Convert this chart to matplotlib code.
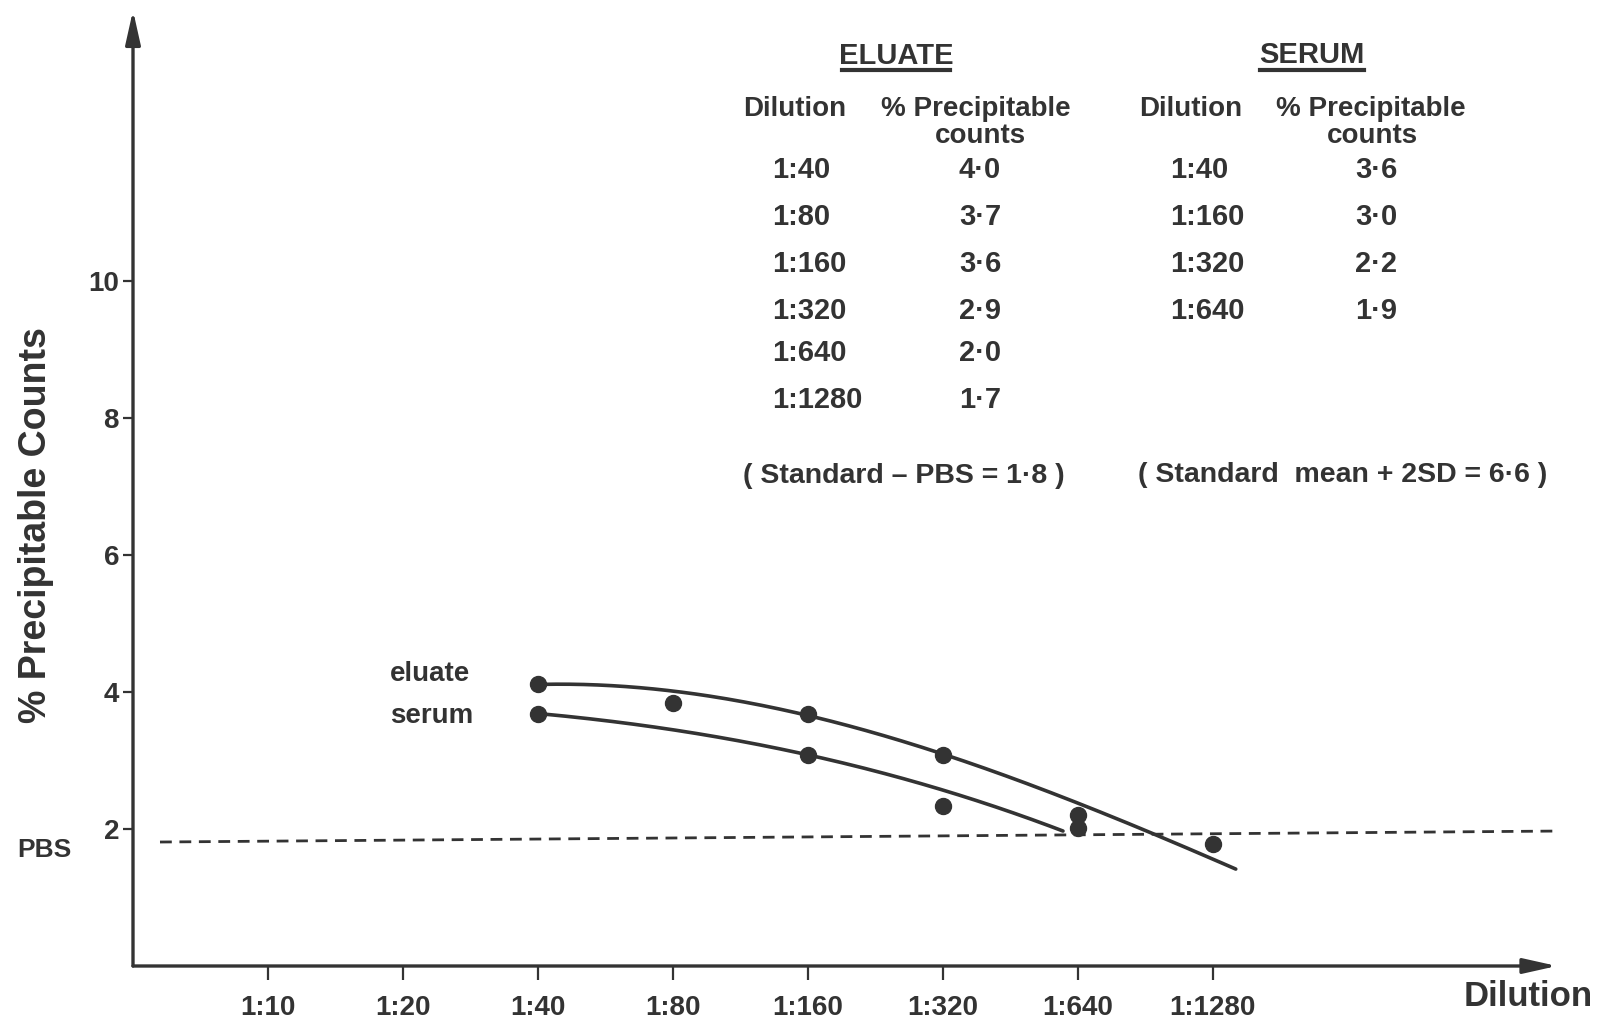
import numpy as np
import matplotlib
matplotlib.use("Agg")
import matplotlib.pyplot as plt
from matplotlib.lines import Line2D

# ---------------- data ----------------
dilutions = ["1:10", "1:20", "1:40", "1:80", "1:160", "1:320", "1:640", "1:1280"]
y_ticks = [2, 4, 6, 8, 10]

# plotted points (x = dilution index, y = % precipitable counts as drawn)
eluate_x = [2, 3, 4, 5, 6, 7]
eluate_y = [4.12, 3.84, 3.68, 3.08, 2.20, 1.78]
serum_x = [2, 4, 5, 6]
serum_y = [3.68, 3.08, 2.34, 2.01]

# hand-drawn fitted curves (knots)
eluate_curve_x = [2.03, 3.06, 4.05, 5.03, 6.05, 6.55, 7.17]
eluate_curve_y = [4.12, 3.97, 3.66, 3.08, 2.32, 1.94, 1.42]
serum_curve_x = [2.03, 3.0, 4.0, 5.0, 5.89]
serum_curve_y = [3.68, 3.45, 3.08, 2.57, 1.97]

# PBS baseline (as drawn, slightly slanted)
pbs_x = [-0.8, 9.55]
pbs_y = [1.81, 1.97]

# table
eluate_dil = ["1:40", "1:80", "1:160", "1:320", "1:640", "1:1280"]
eluate_val = ["4·0", "3·7", "3·6", "2·9", "2·0", "1·7"]
serum_dil = ["1:40", "1:160", "1:320", "1:640"]
serum_val = ["3·6", "3·0", "2·2", "1·9"]

INK = "#333333"
FONT = "Liberation Sans"
plt.rcParams["font.family"] = [FONT, "DejaVu Sans"]
plt.rcParams["lines.scale_dashes"] = False

W, H = 1604, 1022
fig = plt.figure(figsize=(W / 100, H / 100), dpi=100)

def fx(px):
    return px / W

def fy(py):
    return 1 - py / H

# axes: x index -1 .. 9.55 -> px 133..1557 ; y 0..14 -> 966..7
ax = fig.add_axes([fx(133), fy(966), (1557 - 133) / W, (966 - 7) / H])
ax.set_xlim(-1, 9.55)
ax.set_ylim(0, 14)
for s in ax.spines.values():
    s.set_visible(False)
ax.patch.set_alpha(0)

# axis arrows
arrow = dict(arrowstyle="-|>,head_length=1.7,head_width=0.38", color=INK, lw=2.4,
             mutation_scale=12, shrinkA=0, shrinkB=0)
ax.annotate("", xy=(9.55, 0), xytext=(-1, 0), xycoords="data", arrowprops=arrow,
            annotation_clip=False)
ax.annotate("", xy=(-1, 13.95), xytext=(-1, 0), xycoords="data", arrowprops=arrow,
            annotation_clip=False)

# ticks
ax.set_xticks(range(len(dilutions)))
ax.set_xticklabels(dilutions)
ax.set_yticks(y_ticks)
ax.set_yticklabels([str(v) for v in y_ticks])
ax.tick_params(axis="x", direction="out", length=10, width=1.6, color=INK,
               pad=11, labelsize=20, labelcolor=INK)
ax.tick_params(axis="y", direction="out", length=7, width=1.6, color=INK,
               pad=3, labelsize=20, labelcolor=INK)
for lab in ax.get_xticklabels() + ax.get_yticklabels():
    lab.set_fontweight("bold")

# PBS dashed line
ax.plot(pbs_x, pbs_y, color=INK, lw=2.0, linestyle=(0, (8.5, 5.5)), clip_on=False)

# curves (smooth fits through the drawn knots)
ce = np.polyfit(eluate_curve_x, eluate_curve_y, 3)
xe = np.linspace(eluate_curve_x[0], eluate_curve_x[-1], 200)
ax.plot(xe, np.polyval(ce, xe), color=INK, lw=2.6, solid_capstyle="round")
cs = np.polyfit(serum_curve_x, serum_curve_y, 3)
xs = np.linspace(serum_curve_x[0], serum_curve_x[-1], 200)
ax.plot(xs, np.polyval(cs, xs), color=INK, lw=2.6, solid_capstyle="round")

# points
ax.plot(eluate_x, eluate_y, "o", color=INK, ms=11.5, mec=INK, zorder=5)
ax.plot(serum_x, serum_y, "o", color=INK, ms=11.5, mec=INK, zorder=5)

# labels on plot
def t(px, py, s, size=20, ha="left", va="center", weight="bold", **kw):
    fig.text(fx(px), fy(py), s, fontsize=size, ha=ha, va=va, color=INK,
             fontweight=weight, **kw)

t(390, 674, "eluate", size=20)
t(390, 716, "serum", size=20)
t(17, 850, "PBS", size=19)
t(1593, 996, "Dilution", size=25, ha="right")
fig.text(fx(36), fy(525), "% Precipitable Counts", rotation=90, fontsize=27,
         ha="center", va="center", color=INK, fontweight="bold")

# table: ELUATE
dy = 3
t(896, 53 + dy, "ELUATE", size=21, ha="center")
fig.add_artist(Line2D([fx(842), fx(950)], [fy(70), fy(70)], color=INK, lw=3))
t(743, 106 + dy, "Dilution", size=20)
t(881, 106 + dy, "% Precipitable", size=20)
t(980, 133 + dy, "counts", size=20, ha="center")
row_y = [167, 214, 261, 308, 350, 397]
for yy, d, v in zip(row_y, eluate_dil, eluate_val):
    t(772, yy + dy, d, size=21)
    t(980, yy + dy, v, size=21, ha="center")
t(743, 473 + dy, "( Standard \u2013 PBS = 1·8 )", size=20.5)

# table: SERUM
t(1312, 52 + dy, "SERUM", size=21, ha="center")
fig.add_artist(Line2D([fx(1260), fx(1364)], [fy(70), fy(70)], color=INK, lw=3))
t(1139, 106 + dy, "Dilution", size=20)
t(1276, 106 + dy, "% Precipitable", size=20)
t(1372, 133 + dy, "counts", size=20, ha="center")
for yy, d, v in zip(row_y, serum_dil, serum_val):
    t(1170, yy + dy, d, size=21)
    t(1376, yy + dy, v, size=21, ha="center")
t(1138, 472 + dy, "( Standard  mean + 2SD = 6·6 )", size=20.5)

fig.savefig("out.png", dpi=100)
